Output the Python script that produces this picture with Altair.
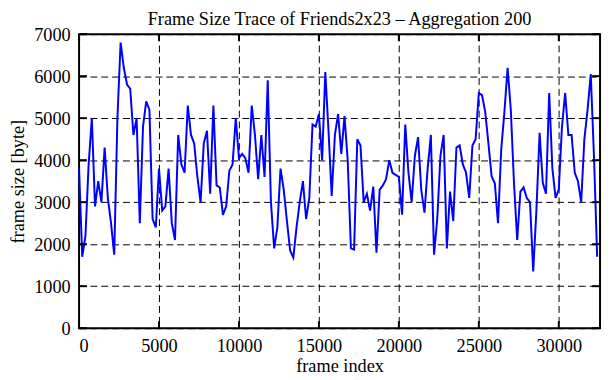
import altair as alt
import pandas as pd

# Aggregated frame sizes (bytes), one value per 200-frame block
frame_sizes = [
    3800, 1700, 2200, 3900, 5000, 2900, 3500, 3000, 4300, 3100,
    2500, 1750, 5000, 6800, 6200, 5800, 5700, 4600, 5000, 2500,
    4800, 5400, 5200, 2600, 2400, 3800, 2800, 2900, 3800, 2500,
    2100, 4600, 3900, 3700, 5300, 4600, 4400, 3600, 3000, 4400,
    4700, 3200, 5300, 3400, 3350, 2700, 2900, 3750, 3900, 5000,
    4050, 4150, 4050, 3700, 5300, 4600, 3550, 4600, 3600, 5900,
    3000, 1900, 2400, 3800, 3300, 2550, 1850, 1680, 2400, 3000,
    3500, 2600, 3100, 4850, 4800, 5100, 4000, 6100, 4700, 3150,
    4600, 5100, 4150, 5050, 4000, 1900, 1870, 4500, 4350, 3000,
    3200, 2800, 3370, 1800, 3300, 3400, 3550, 4000, 3700, 3650,
    3600, 2700, 4850, 3700, 3000, 4100, 4550, 3300, 2750, 3800,
    4600, 1750, 2600, 4100, 4600, 1900, 3250, 2550, 4300, 4350,
    3900, 3700, 3100, 4350, 4500, 5600, 5550, 5150, 4400, 3620,
    3450, 2500, 4250, 5150, 6200, 5200, 3450, 2100, 3250, 3350,
    3100, 3000, 1350, 2800, 4650, 3460, 3200, 5600, 3800, 3100,
    3300, 4800, 5600, 4600, 4600, 3700, 3500, 3000, 4500, 5200,
    6050, 4100, 1700,
]
aggregation = 200
frames = [i * aggregation for i in range(len(frame_sizes))]

x_ticks = [0, 5000, 10000, 15000, 20000, 25000, 30000]
y_ticks = [0, 1000, 2000, 3000, 4000, 5000, 6000, 7000]

W, H = 528, 298
FONT = "Liberation Serif"

df = pd.DataFrame({"frame": frames, "size": frame_sizes})
xt = pd.DataFrame({"frame": x_ticks})
yt = pd.DataFrame({"size": y_ticks})

xscale = alt.Scale(domain=[0, 32580], nice=False, zero=False)
yscale = alt.Scale(domain=[0, 7000], nice=False)

line = alt.Chart(df).mark_line(color="#0000ff", strokeWidth=2).encode(
    x=alt.X("frame:Q", scale=xscale,
            axis=alt.Axis(values=x_ticks, format="d", title="frame index",
                          grid=True, gridColor="black", gridDash=[7, 4],
                          gridWidth=1, gridOpacity=1, ticks=False, domain=False,
                          labelPadding=9, titlePadding=1,
                          labelFont=FONT, labelFontSize=18.5, labelColor="black",
                          titleFont=FONT, titleFontSize=18.5, titleFontWeight="normal",
                          titleColor="black")),
    y=alt.Y("size:Q", scale=yscale,
            axis=alt.Axis(values=y_ticks, format="d", title="frame size [byte]",
                          grid=True, gridColor="black", gridDash=[7, 4],
                          gridWidth=1, gridOpacity=1, ticks=False, domain=False,
                          labelPadding=9, titlePadding=6,
                          labelFont=FONT, labelFontSize=18.5, labelColor="black",
                          titleFont=FONT, titleFontSize=18.5, titleFontWeight="normal",
                          titleColor="black")),
)

tick_style = dict(color="black", strokeWidth=2)
xt_bottom = alt.Chart(xt).mark_rule(**tick_style).encode(
    x="frame:Q", y=alt.value(H), y2=alt.value(H - 7))
xt_top = alt.Chart(xt).mark_rule(**tick_style).encode(
    x="frame:Q", y=alt.value(0), y2=alt.value(7))
yt_left = alt.Chart(yt).mark_rule(**tick_style).encode(
    y="size:Q", x=alt.value(0), x2=alt.value(8))
yt_right = alt.Chart(yt).mark_rule(**tick_style).encode(
    y="size:Q", x=alt.value(W), x2=alt.value(W - 8))

chart = alt.layer(line, xt_bottom, xt_top, yt_left, yt_right).properties(
    width=W, height=H,
    autosize=alt.AutoSizeParams(type="none"),
    padding={"left": 72, "top": 24, "right": 3, "bottom": 50},
    background="white",
    title=alt.TitleParams("Frame Size Trace of Friends2x23 \u2013 Aggregation 200",
                          font=FONT, fontSize=18.5, fontWeight="normal",
                          color="black", anchor="middle", offset=-3),
).configure_view(stroke="black", strokeWidth=2)

chart.save("out.html", embed_options={"renderer": "svg", "actions": False})
